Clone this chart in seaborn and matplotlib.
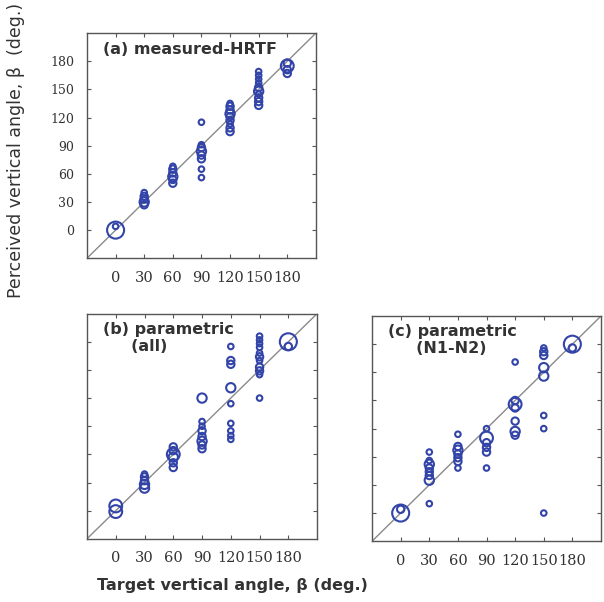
import matplotlib
matplotlib.use("Agg")
import matplotlib.pyplot as plt
import seaborn as sns
import pandas as pd

# target angle, perceived angle, marker size level (number of overlapping responses)
a_target = [0, 0,
            30, 30, 30, 30, 30,
            60, 60, 60, 60, 60, 60,
            90, 90, 90, 90, 90, 90, 90, 90,
            120, 120, 120, 120, 120, 120, 120, 120, 120,
            150, 150, 150, 150, 150, 150, 150, 150, 150, 150,
            180, 180, 180, 180]
a_perceived = [0, 4,
               27, 30, 33, 36, 40,
               50, 54, 57, 61, 65, 68,
               56, 65, 76, 80, 84, 88, 91, 115,
               105, 109, 113, 117, 121, 124, 128, 132, 135,
               133, 137, 141, 145, 148, 152, 157, 161, 165, 169,
               167, 171, 175, 178]
a_count = [5, 1,
           2, 3, 2, 2, 1,
           2, 2, 3, 2, 2, 1,
           1, 1, 2, 2, 3, 2, 1, 1,
           2, 2, 1, 2, 2, 3, 2, 2, 1,
           2, 2, 2, 1, 3, 2, 1, 1, 1, 1,
           2, 2, 4, 2]

b_target = [0, 0,
            30, 30, 30, 30, 30,
            60, 60, 60, 60, 60, 60,
            90, 90, 90, 90, 90, 90, 90, 90,
            120, 120, 120, 120, 120, 120, 120, 120, 120,
            150, 150, 150, 150, 150, 150, 150, 150, 150, 150, 150,
            180, 180]
b_perceived = [-1, 5,
               24, 28, 32, 36, 39,
               46, 51, 57, 60, 64, 68,
               66, 70, 74, 79, 85, 90, 95, 120,
               76, 80, 85, 93, 114, 131, 156, 160, 175,
               120, 145, 149, 153, 160, 164, 168, 174, 178, 182, 186,
               180, 175]
b_count = [4, 4,
           3, 3, 2, 2, 1,
           2, 2, 3, 4, 2, 2,
           2, 2, 3, 2, 2, 1, 1, 3,
           1, 1, 1, 1, 1, 3, 2, 2, 1,
           1, 1, 2, 2, 1, 2, 1, 1, 1, 1, 1,
           5, 2]

c_target = [0, 0,
            30, 30, 30, 30, 30, 30, 30, 30,
            60, 60, 60, 60, 60, 60, 60,
            90, 90, 90, 90, 90, 90,
            120, 120, 120, 120, 120, 120, 120,
            150, 150, 150, 150, 150, 150, 150, 150,
            180, 180]
c_perceived = [0, 4,
               10, 35, 40, 44, 48, 52, 56, 65,
               48, 55, 59, 63, 67, 71, 84,
               48, 65, 70, 75, 80, 90,
               83, 87, 98, 112, 116, 120, 161,
               0, 90, 104, 146, 155, 168, 172, 176,
               180, 176]
c_count = [5, 2,
           1, 3, 2, 2, 2, 3, 1, 1,
           1, 2, 2, 2, 3, 2, 1,
           1, 2, 2, 2, 4, 1,
           2, 3, 2, 2, 4, 2, 1,
           1, 1, 1, 3, 3, 2, 2, 1,
           5, 2]

ticks = [0, 30, 60, 90, 120, 150, 180]
panel_titles = ["(a) measured-HRTF", "(b) parametric\n     (all)", "(c) parametric\n     (N1-N2)"]

blue = "#3344a8"
size_map = {1: 16, 2: 28, 3: 45, 4: 85, 5: 150}

sns.set_style("ticks")
plt.rcParams["font.family"] = ["DejaVu Sans"]

fig = plt.figure(figsize=(6.04, 6.02), dpi=100)
boxes = [[0.144, 0.571, 0.379, 0.374],
         [0.144, 0.105, 0.381, 0.374],
         [0.616, 0.101, 0.379, 0.374]]

panels = [(a_target, a_perceived, a_count),
          (b_target, b_perceived, b_count),
          (c_target, c_perceived, c_count)]

for i, (box, (tx, py, cnt)) in enumerate(zip(boxes, panels)):
    ax = fig.add_axes(box)
    df = pd.DataFrame({"target": tx, "perceived": py, "count": cnt})
    ax.plot([-30, 210], [-30, 210], color="#8a8a8a", lw=1.0, zorder=1)
    sns.scatterplot(data=df, x="target", y="perceived", size="count", sizes=size_map,
                    facecolor="none", edgecolor=blue, linewidth=1.5, legend=False,
                    ax=ax, zorder=3)
    ax.set_xlim(-30, 210)
    ax.set_ylim(-30, 210)
    ax.set_xticks(ticks)
    ax.set_yticks(ticks)
    ax.set_xlabel("")
    ax.set_ylabel("")
    ax.tick_params(direction="in", top=True, right=True, length=3, width=0.8,
                   color="#555555", labelcolor="#333333", pad=9)
    ax.tick_params(axis="x", labelsize=10.5)
    ax.tick_params(axis="y", labelsize=9)
    for lab in ax.get_xticklabels() + ax.get_yticklabels():
        lab.set_family("DejaVu Serif")
    if i > 0:
        ax.set_yticklabels([])
    for s in ax.spines.values():
        s.set_color("#555555")
        s.set_linewidth(1.0)
    ax.text(-13, 201, panel_titles[i], fontsize=11.5, color="#333333",
            ha="left", va="top", fontweight="bold", linespacing=1.15)

fig.text(0.027, 0.75, "Perceived vertical angle, \u03b2  (deg.)", rotation=90,
         ha="center", va="center", fontsize=12.5, color="#333333")
fig.text(0.385, 0.028, "Target vertical angle, \u03b2 (deg.)", ha="center", va="center",
         fontsize=11.5, color="#333333", fontweight="bold")

fig.savefig("out.png", dpi=100)
